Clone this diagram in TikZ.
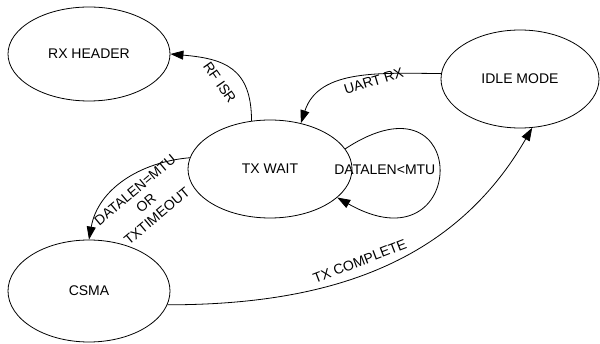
\documentclass[tikz,border=0pt]{standalone}
\usepackage{fontspec}
\setmainfont{Liberation Sans}
\usetikzlibrary{shapes.geometric,arrows.meta}

\begin{document}
\begin{tikzpicture}
  [x=1pt,y=1pt,every node/.style={font=\fontsize{14}{17}\selectfont},
   state/.style={ellipse,draw,line width=.8pt,inner sep=0pt},
   trans/.style={line width=.8pt,-{Triangle[length=13pt,width=9pt]}}]
  \useasboundingbox (0,0) rectangle (600,343);
  \node[state,minimum width=162,minimum height=94] (rx) at (89,289) {RX HEADER};
  \node[state,minimum width=164,minimum height=98] (txwait) at (270,174) {TX WAIT};
  \node[state,minimum width=158,minimum height=98] (idle) at (520,264) {IDLE MODE};
  \node[state,minimum width=162,minimum height=102] (csma) at (89,52) {CSMA};
  \draw[trans] (txwait.111) to[out=90,in=-5,looseness=1.3] node[pos=.45,rotate=-55,anchor=north,inner sep=13pt] {RF ISR} (rx.east);
  \draw[trans] (idle.176) to[out=180,in=72] node[pos=.4,rotate=17,anchor=north,inner sep=1pt] {UART RX} (txwait.56);
  \draw[trans] (txwait.172) to[out=185,in=80] (csma.north);
  \node[rotate=40,align=center,inner sep=0pt] (why) at (146,140) {DATALEN=MTU\\OR\\TXTIMEOUT};
  \draw[trans] (csma.-10) to[out=0,in=-120] node[pos=.46,rotate=21,anchor=south,inner sep=8pt] {TX COMPLETE} (idle.-76);
  \draw[trans] (txwait.15) .. controls +(128,84) and +(132,-75) .. node[pos=.5,left,inner sep=3pt] {DATALEN<MTU} (txwait.-23);
\end{tikzpicture}
\end{document}
